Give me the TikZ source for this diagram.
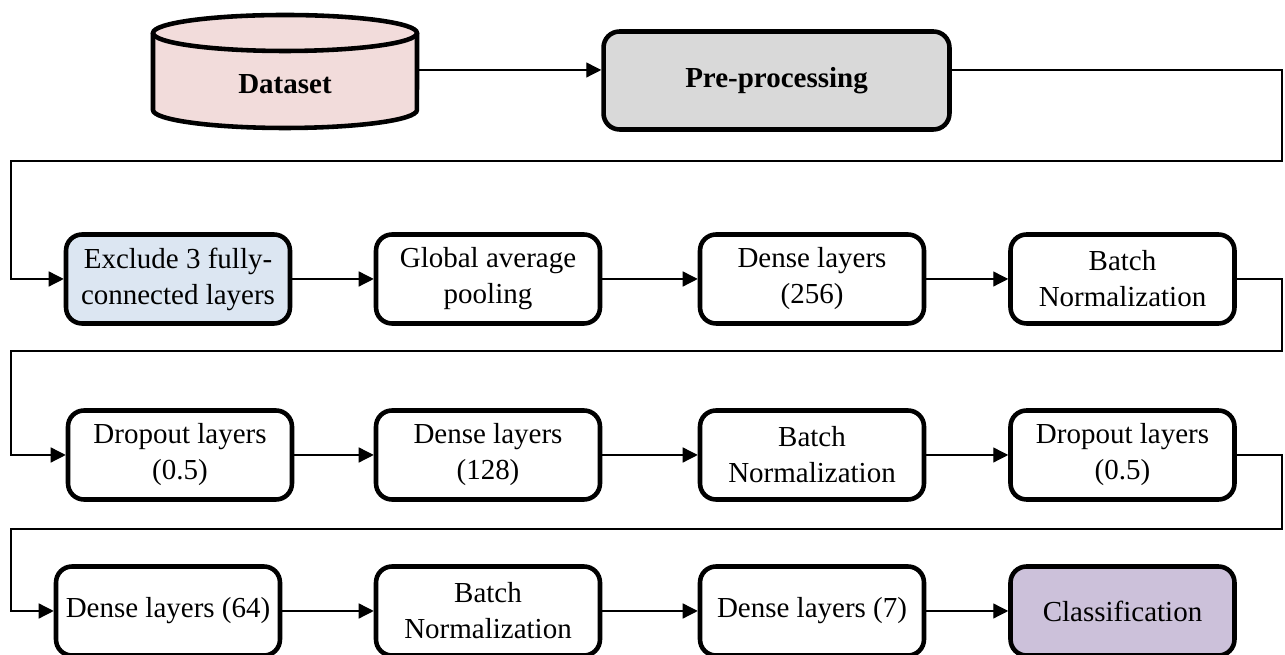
\documentclass[tikz,border=0pt]{standalone}
\usepackage{fontspec}
\setmainfont{Liberation Serif}
\usetikzlibrary{arrows.meta}
\definecolor{dspink}{HTML}{F2DCDB}
\definecolor{ppgray}{HTML}{D9D9D9}
\definecolor{exblue}{HTML}{DCE6F2}
\definecolor{clsviolet}{HTML}{CCC1DA}
\begin{document}
\begin{tikzpicture}[x=0.02cm,y=0.02cm,
  txt/.style={font=\fontsize{16.5}{20.5}\selectfont},
  boldtxt/.style={font=\bfseries\fontsize{16.5}{20.5}\selectfont},
  layerbox/.style={draw, line width=2.6pt, rounded corners=0.32cm,
    minimum width=4.48cm, minimum height=1.78cm, align=center, inner sep=2pt, txt},
  arr/.style={line width=0.75pt, -{Triangle[length=0.3cm,width=0.3cm]}},
  cylborder/.style={line width=2.6pt}]
\useasboundingbox (0,0) rectangle (1285,655);
\clip (0,0) rectangle (1285,655);

% Dataset cylinder
\fill[dspink] (153,622) -- (153,545)
  arc[start angle=180,end angle=360,x radius=2.64cm,y radius=0.36cm]
  -- (417,622)
  arc[start angle=0,end angle=180,x radius=2.64cm,y radius=0.36cm] -- cycle;
\draw[cylborder] (153,622) -- (153,545)
  arc[start angle=180,end angle=360,x radius=2.64cm,y radius=0.36cm]
  -- (417,622);
\draw[cylborder] (285,622) ellipse [x radius=2.64cm, y radius=0.36cm];
\node[boldtxt] (ds) at (285,571) {Dataset};
\coordinate (dsR) at (417,585);

% Pre-processing
\node[layerbox, boldtxt, fill=ppgray, minimum width=6.92cm, minimum height=1.96cm]
  (pp) at (776.5,574.5) {Pre-processing};

% Row 2
\node[layerbox, fill=exblue] (ex)   at (178,376)    {Exclude 3 fully-\\connected layers};
\node[layerbox]              (gap)  at (488,376)    {Global average\\pooling};
\node[layerbox]              (d256) at (812,376)    {Dense layers\\(256)};
\node[layerbox]              (bn1)  at (1122.5,376) {Batch\\Normalization};

% Row 3
\node[layerbox] (do1)  at (180,200)    {Dropout layers\\(0.5)};
\node[layerbox] (d128) at (488,200)    {Dense layers\\(128)};
\node[layerbox] (bn2)  at (812,200)    {Batch\\Normalization};
\node[layerbox] (do2)  at (1122.5,200) {Dropout layers\\(0.5)};

% Row 4
\node[layerbox]                  (d64) at (168,44)    {Dense layers (64)};
\node[layerbox]                  (bn3) at (488,44)    {Batch\\Normalization};
\node[layerbox]                  (d7)  at (812,44)    {Dense layers (7)};
\node[layerbox, fill=clsviolet]  (cls) at (1122.5,44) {Classification};

% turn points
\coordinate (t1r) at (1282,494); \coordinate (t1l) at (11,494);
\coordinate (t2r) at (1282,304); \coordinate (t2l) at (11,304);
\coordinate (t3r) at (1282,126); \coordinate (t3l) at (11,126);

% connectors
\draw[arr] (dsR) -- (dsR -| pp.west);
\draw[arr] (pp.east |- dsR) -| (t1r) -- (t1l) |- (ex.west);
\draw[arr] (ex) -- (gap);
\draw[arr] (gap) -- (d256);
\draw[arr] (d256) -- (bn1);
\draw[arr] (bn1.east) -| (t2r) -- (t2l) |- (do1.west);
\draw[arr] (do1) -- (d128);
\draw[arr] (d128) -- (bn2);
\draw[arr] (bn2) -- (do2);
\draw[arr] (do2.east) -| (t3r) -- (t3l) |- (d64.west);
\draw[arr] (d64) -- (bn3);
\draw[arr] (bn3) -- (d7);
\draw[arr] (d7) -- (cls);
\end{tikzpicture}
\end{document}
